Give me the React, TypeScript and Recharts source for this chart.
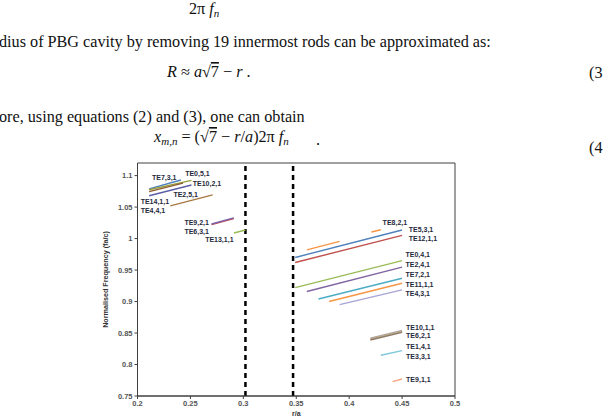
import {
  LineChart,
  Line,
  XAxis,
  YAxis,
  ReferenceLine,
  ReferenceArea,
  ReferenceDot,
} from "recharts";

// one straight segment per mode (start -> end)
const modeNames = [
  "TE7,3,1", "TE0,5,1", "TE14,1,1", "TE10,2,1", "TE2,5,1", "TE9,2,1", "TE6,3,1", "TE13,1,1",
  "TE8,2,1a", "TE8,2,1b", "TE5,3,1", "TE12,1,1", "TE0,4,1", "TE2,4,1", "TE7,2,1", "TE11,1,1", "TE4,3,1",
  "TE10,1,1", "TE6,2,1", "TE6,2,1b", "TE1,4,1", "TE9,1,1",
];
const xStart = [
  0.211, 0.211, 0.211, 0.211, 0.231, 0.27, 0.27, 0.291,
  0.36, 0.421, 0.349, 0.349, 0.349, 0.36, 0.371, 0.381, 0.391,
  0.42, 0.42, 0.42, 0.43, 0.441,
];
const yStart = [
  1.079, 1.0775, 1.0745, 1.068, 1.052, 1.0222, 1.0232, 1.0088,
  0.982, 1.0104, 0.97, 0.962, 0.922, 0.916, 0.904, 0.9, 0.895,
  0.842, 0.8405, 0.839, 0.8147, 0.7728,
];
const xEnd = [
  0.241, 0.251, 0.243, 0.251, 0.271, 0.291, 0.291, 0.302,
  0.391, 0.43, 0.45, 0.45, 0.45, 0.45, 0.45, 0.45, 0.45,
  0.45, 0.45, 0.45, 0.45, 0.45,
];
const yEnd = [
  1.093, 1.0925, 1.088, 1.085, 1.0693, 1.0318, 1.0328, 1.0136,
  0.9955, 1.014, 1.0136, 1.005, 0.965, 0.9547, 0.937, 0.929, 0.9186,
  0.854, 0.8525, 0.851, 0.822, 0.777,
];

const modeColors = [
  "#4F81BD", "#97A03C", "#8E5B34", "#5B5FA8", "#A97842", "#C0504D", "#7F5FA8", "#9BBB59",
  "#F79646", "#F79646", "#4F81BD", "#C0504D", "#9BBB59", "#8064A2", "#4BACC6", "#F79646", "#A9A4D4",
  "#A6A6A6", "#C2A882", "#8C7B6B", "#7EC8DA", "#F4A582",
];

// mode labels and where they sit
const labelNames = [
  "TE7,3,1", "TE0,5,1", "TE10,2,1", "TE2,5,1", "TE14,1,1", "TE4,4,1", "TE9,2,1", "TE6,3,1", "TE13,1,1",
  "TE8,2,1", "TE5,3,1", "TE12,1,1", "TE0,4,1", "TE2,4,1", "TE7,2,1", "TE11,1,1", "TE4,3,1",
  "TE10,1,1", "TE6,2,1", "TE1,4,1", "TE3,3,1", "TE9,1,1",
];
const labelX = [
  0.2137, 0.245, 0.2522, 0.2339, 0.203, 0.203, 0.2443, 0.2443, 0.2639,
  0.4316, 0.4563, 0.4563, 0.4532, 0.4532, 0.4532, 0.4532, 0.4532,
  0.4538, 0.4538, 0.4538, 0.4538, 0.4538,
];
const labelY = [
  1.0975, 1.103, 1.0877, 1.0702, 1.0586, 1.0438, 1.0263, 1.012, 0.9987,
  1.0248, 1.014, 1.0, 0.9743, 0.9584, 0.9436, 0.9277, 0.9134,
  0.8593, 0.8455, 0.8284, 0.8131, 0.7766,
];

const cutoffs = [0.302, 0.347];
const xTicks = [0.2, 0.25, 0.3, 0.35, 0.4, 0.45, 0.5];
const yTicks = [0.75, 0.8, 0.85, 0.9, 0.95, 1, 1.05, 1.1];

const segments = modeNames.map((name, i) => ({
  name,
  color: modeColors[i],
  points: [
    { x: xStart[i], y: yStart[i] },
    { x: xEnd[i], y: yEnd[i] },
  ],
}));

const chartFont = "'Liberation Sans', Arial, sans-serif";

const ModeLabel = (props: any) => (
  <text
    x={props.cx}
    y={props.cy}
    dominantBaseline="central"
    fontFamily={chartFont}
    fontSize={7}
    fontWeight="bold"
    fill="#1f2a3c"
  >
    {props.text}
  </text>
);

export default function App() {
  return (
    <div
      style={{
        position: "absolute",
        left: 0,
        top: 0,
        width: 606,
        height: 418,
        overflow: "hidden",
        background: "#fff",
      }}
    >
      <svg
        width={606}
        height={418}
        style={{ position: "absolute", left: 0, top: 0 }}
        fontFamily="'Liberation Serif', 'Times New Roman', serif"
        fontSize={16.2}
        fill="#111"
      >
        <text x={189} y={14}>
          2π <tspan fontStyle="italic">f</tspan>
          <tspan fontStyle="italic" fontSize={11} dy={3}>n</tspan>
        </text>
        <text x={-1} y={47}>
          dius of PBG cavity by removing 19 innermost rods can be approximated as:
        </text>
        <text x={167} y={77}>
          <tspan fontStyle="italic">R</tspan> ≈ <tspan fontStyle="italic">a</tspan>√
          <tspan textDecoration="overline">7</tspan> − <tspan fontStyle="italic">r</tspan>  .
        </text>
        <text x={589} y={78}>(3</text>
        <text x={-1} y={122}>ore, using equations (2) and (3), one can obtain</text>
        <text x={154} y={142}>
          <tspan fontStyle="italic">x</tspan>
          <tspan fontStyle="italic" fontSize={11} dy={3}>m,n</tspan>
          <tspan dy={-3}> = (√</tspan>
          <tspan textDecoration="overline">7</tspan> − <tspan fontStyle="italic">r</tspan>/
          <tspan fontStyle="italic">a</tspan>)2π <tspan fontStyle="italic">f</tspan>
          <tspan fontStyle="italic" fontSize={11} dy={3}>n</tspan>
        </text>
        <text x={316} y={145}>.</text>
        <text x={589} y={153}>(4</text>
      </svg>

      <div style={{ position: "absolute", left: 0, top: 0 }}>
        <LineChart
          width={606}
          height={418}
          margin={{ top: 163, right: 151, bottom: 0, left: 105.5 }}
        >
          <XAxis
            dataKey="x"
            type="number"
            domain={[0.2, 0.5]}
            ticks={xTicks}
            allowDataOverflow
            height={22}
            stroke="#404040"
            tickSize={3}
            tick={{ fontSize: 7.5, fontWeight: "bold", fill: "#555", fontFamily: chartFont }}
            label={(p: any) => {
              const vb = p.viewBox;
              return (
                <text
                  x={vb.x + vb.width / 2}
                  y={416}
                  textAnchor="middle"
                  fontFamily={chartFont}
                  fontSize={7}
                  fontWeight="bold"
                  fill="#333"
                >
                  r/a
                </text>
              );
            }}
          />
          <YAxis
            dataKey="y"
            type="number"
            domain={[0.75, 1.12]}
            ticks={yTicks}
            allowDataOverflow
            width={32}
            stroke="#404040"
            tickSize={3}
            tickMargin={2}
            tick={{ fontSize: 7.5, fontWeight: "bold", fill: "#555", fontFamily: chartFont }}
            label={(p: any) => {
              const vb = p.viewBox;
              const cx = vb.x;
              const cy = vb.y + vb.height / 2;
              return (
                <text
                  x={cx}
                  y={cy}
                  transform={`rotate(-90 ${cx} ${cy})`}
                  textAnchor="middle"
                  dominantBaseline="central"
                  fontFamily={chartFont}
                  fontSize={7.2}
                  fontWeight="bold"
                  fill="#333"
                >
                  Normalised  Frequency  (fa/c)
                </text>
              );
            }}
          />
          <ReferenceArea
            x1={0.2}
            x2={0.5}
            y1={0.75}
            y2={1.12}
            fill="none"
            stroke="#404040"
            strokeWidth={1}
          />
          {cutoffs.map((c) => (
            <ReferenceLine
              key={c}
              x={c}
              stroke="#000"
              strokeWidth={2.5}
              strokeDasharray="5 4"
            />
          ))}
          {segments.map((s) => (
            <Line
              key={s.name}
              data={s.points}
              dataKey="y"
              type="linear"
              stroke={s.color}
              strokeWidth={1.4}
              dot={false}
              activeDot={false}
              isAnimationActive={false}
            />
          ))}
          {labelNames.map((name, i) => (
            <ReferenceDot
              key={name + i}
              x={labelX[i]}
              y={labelY[i]}
              r={0}
              shape={(p: any) => <ModeLabel {...p} text={name} />}
            />
          ))}
        </LineChart>
      </div>
    </div>
  );
}
